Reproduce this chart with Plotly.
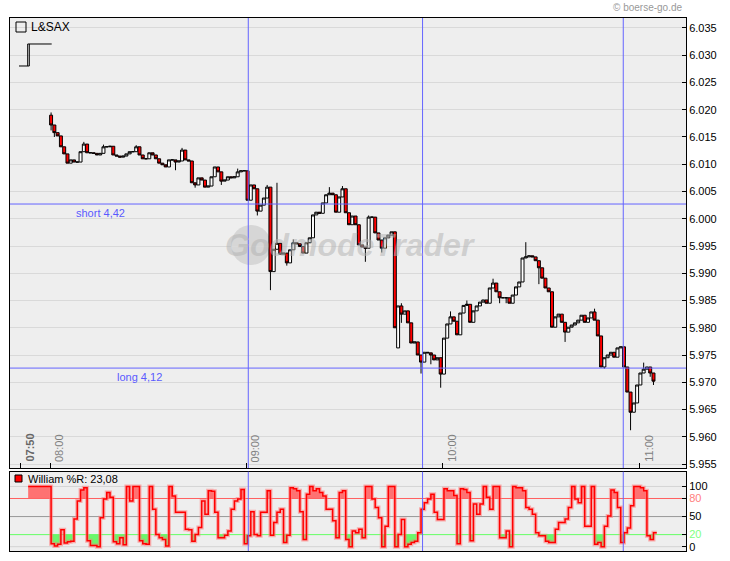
import plotly.graph_objects as go
import pandas as pd

# ---------------- data ----------------
first_open = 6.0190
closes = [
    6.0172, 6.0158, 6.0152, 6.0132, 6.0119, 6.0102, 6.0108, 6.0104, 6.0104, 6.0123,
    6.0137, 6.0121, 6.0121, 6.0120, 6.0117, 6.0120, 6.0132, 6.0132, 6.0133, 6.0117,
    6.0115, 6.0113, 6.0115, 6.0119, 6.0123, 6.0123, 6.0132, 6.0117, 6.0110, 6.0110,
    6.0121, 6.0117, 6.0110, 6.0102, 6.0099, 6.0095, 6.0108, 6.0108, 6.0104, 6.0106,
    6.0126, 6.0108, 6.0106, 6.0066, 6.0062, 6.0075, 6.0071, 6.0058, 6.0060, 6.0077,
    6.0095, 6.0086, 6.0069, 6.0071, 6.0077, 6.0075, 6.0077, 6.0086, 6.0088, 6.0088,
    6.0034, 6.0062, 6.0055, 6.0014, 6.0025, 6.0038, 6.0058, 5.9903, 5.9944, 5.9955,
    5.9935, 5.9937, 5.9919, 5.9943, 5.9956, 5.9954, 5.9949, 5.9937, 5.9956, 5.9965,
    6.0007, 6.0012, 6.0010, 6.0029, 6.0044, 6.0047, 6.0044, 6.0012, 6.0040, 6.0055,
    6.0011, 5.9989, 6.0005, 5.9989, 5.9952, 5.9948, 5.9946, 6.0003, 6.0003, 5.9974,
    5.9961, 5.9946, 5.9965, 5.9970, 5.9976, 5.9800, 5.9840, 5.9825, 5.9831, 5.9809,
    5.9772, 5.9774, 5.9750, 5.9737, 5.9755, 5.9754, 5.9750, 5.9741, 5.9745, 5.9715,
    5.9781, 5.9807, 5.9820, 5.9812, 5.9787, 5.9827, 5.9841, 5.9843, 5.9810, 5.9831,
    5.9840, 5.9847, 5.9851, 5.9845, 5.9873, 5.9882, 5.9866, 5.9855, 5.9855, 5.9855,
    5.9845, 5.9860, 5.9875, 5.9884, 5.9928, 5.9930, 5.9932, 5.9930, 5.9923, 5.9910,
    5.9891, 5.9873, 5.9866, 5.9801, 5.9820, 5.9825, 5.9810, 5.9792, 5.9801, 5.9805,
    5.9809, 5.9814, 5.9823, 5.9810, 5.9818, 5.9829, 5.9814, 5.9785, 5.9728, 5.9745,
    5.9750, 5.9755, 5.9746, 5.9763, 5.9765, 5.9728, 5.9682, 5.9645, 5.9662, 5.9695,
    5.9717, 5.9724, 5.9728, 5.9717, 5.9702,
]
open_overrides = {106: 5.9763}
wick_highs = {0: 6.0195, 10: 6.0141, 16: 6.0136, 26: 6.0135, 40: 6.0130, 57: 6.0092,
              66: 6.0062, 69: 6.0066, 74: 5.9962, 85: 6.0058, 89: 6.0060, 97: 6.0006,
              107: 5.9845, 122: 5.9830, 127: 5.9850, 135: 5.9890, 145: 5.9957,
              166: 5.9835, 181: 5.9736}
wick_lows = {0: 6.0162, 1: 6.0150, 38: 6.0089, 44: 6.0057, 52: 6.0062, 63: 6.0006,
             67: 5.9869, 72: 5.9914, 96: 5.9921, 101: 5.9938, 107: 5.9809, 113: 5.9716,
             116: 5.9733, 119: 5.9690, 137: 5.9845, 139: 5.9845, 149: 5.9880,
             157: 5.9774, 169: 5.9725, 177: 5.9612, 183: 5.9710, 184: 5.9695}

wr_lead = [100, 100, 100, 100, 100, 100, 100]
wr_values = [
    5, 1, 4, 28, 6, 8, 9, 46, 76, 94,
    98, 10, 2, 2, 0, 48, 79, 90, 82, 8,
    5, 15, 3, 100, 76, 100, 100, 10, 5, 4,
    100, 62, 20, 15, 12, 1, 100, 84, 57, 57,
    57, 29, 28, 9, 20, 32, 76, 54, 93, 92,
    57, 15, 15, 19, 26, 62, 76, 79, 95, 5,
    18, 58, 20, 18, 57, 57, 93, 19, 40, 57,
    62, 7, 19, 98, 96, 93, 58, 12, 87, 100,
    93, 96, 90, 84, 62, 62, 43, 15, 90, 93,
    12, 0, 26, 23, 29, 15, 100, 100, 79, 65,
    48, 0, 34, 100, 100, 0, 20, 45, 0, 4,
    7, 9, 23, 62, 73, 79, 87, 57, 45, 45,
    96, 93, 93, 85, 5, 96, 95, 90, 10, 71,
    54, 71, 100, 82, 62, 100, 100, 15, 15, 26,
    0, 100, 98, 98, 93, 65, 62, 54, 23, 18,
    18, 9, 7, 7, 29, 40, 40, 46, 65, 100,
    79, 73, 100, 34, 34, 100, 4, 7, 0, 34,
    51, 94, 90, 65, 7, 23, 31, 68, 100, 100,
    98, 93, 18, 12, 23.08,
]

price_ticks = [5.955, 5.960, 5.965, 5.970, 5.975, 5.980, 5.985, 5.990, 5.995, 6.000,
               6.005, 6.010, 6.015, 6.020, 6.025, 6.030, 6.035]
wr_ticks = [0, 20, 50, 80, 100]
wr_tick_text = ["0", '<span style="color:#80ff80">20</span>', "50",
                '<span style="color:#ff8080">80</span>', "100"]
time_ticks = ["07:51", "08:00", "09:00", "10:00", "11:00"]
time_labels = ["07:50", "08:00", "09:00", "10:00", "11:00"]
vline_times = ["09:00:34", "09:53:48", "10:55:06"]
short_level, long_level = 6.0027, 5.9726
short_label, long_label = "short 4,42", "long 4,12"
instrument = "L&SAX"
wr_label = "William %R: 23,08"

# ---------------- build ----------------
DAY = "2010-06-01 "
start = pd.Timestamp(DAY + "08:00:20")
t = [start + pd.Timedelta(minutes=i) for i in range(len(closes))]
opens = [first_open] + closes[:-1]
for k, v in open_overrides.items():
    opens[k] = v
highs = [max(o, c) for o, c in zip(opens, closes)]
lows = [min(o, c) for o, c in zip(opens, closes)]
for k, v in wick_highs.items():
    highs[k] = max(highs[k], v)
for k, v in wick_lows.items():
    lows[k] = min(lows[k], v)

wr_start = pd.Timestamp(DAY + "07:53:20")
wr_all = wr_lead + wr_values + [wr_values[-1]]
wr_t = [wr_start + pd.Timedelta(minutes=i) for i in range(len(wr_all))]

W, H = 730, 561
L, R, T, B = 10, 686, 18, 551


def px(x):
    return (x - L) / (R - L)


def py(y):
    return (B - y) / (B - T)


FONT = "Liberation Sans, Arial, sans-serif"

fig = go.Figure()
fig.add_trace(go.Candlestick(
    x=t, open=opens, high=highs, low=lows, close=closes,
    increasing=dict(fillcolor="white", line=dict(color="black", width=1)),
    decreasing=dict(fillcolor="#ff0000", line=dict(color="black", width=1)),
    whiskerwidth=0, xaxis="x", yaxis="y", hoverinfo="skip"))

# Williams %R fills
fig.add_trace(go.Scatter(x=wr_t, y=[80] * len(wr_all), mode="lines", line=dict(width=0, shape="hv"),
                         xaxis="x2", yaxis="y2", hoverinfo="skip"))
fig.add_trace(go.Scatter(x=wr_t, y=[max(v, 80) for v in wr_all], mode="lines",
                         line=dict(width=0, shape="hv"), fill="tonexty",
                         fillcolor="rgba(255,100,100,0.9)", xaxis="x2", yaxis="y2", hoverinfo="skip"))
fig.add_trace(go.Scatter(x=wr_t, y=[20] * len(wr_all), mode="lines", line=dict(width=0, shape="hv"),
                         xaxis="x2", yaxis="y2", hoverinfo="skip"))
fig.add_trace(go.Scatter(x=wr_t, y=[min(v, 20) for v in wr_all], mode="lines",
                         line=dict(width=0, shape="hv"), fill="tonexty",
                         fillcolor="rgba(100,245,100,0.95)", xaxis="x2", yaxis="y2", hoverinfo="skip"))
fig.add_trace(go.Scatter(x=wr_t, y=wr_all, mode="lines",
                         line=dict(color="rgba(255,120,120,0.55)", width=4, shape="hv"),
                         xaxis="x2", yaxis="y2", hoverinfo="skip"))
fig.add_trace(go.Scatter(x=wr_t, y=wr_all, mode="lines",
                         line=dict(color="#ff0000", width=1.5, shape="hv"),
                         xaxis="x2", yaxis="y2", hoverinfo="skip"))

x_range = [DAY + "07:47:47", DAY + "11:14:16"]
y_range = [5.95427, 6.03683]

fig.update_layout(
    width=W, height=H, margin=dict(l=L, r=W - R, t=T, b=H - B, autoexpand=False),
    paper_bgcolor="white", plot_bgcolor="#eeeeee", showlegend=False,
    font=dict(family=FONT, size=11, color="black"), boxgap=0.05, boxgroupgap=0.05,
    xaxis=dict(domain=[0, 1], anchor="y", range=x_range, type="date",
               tickvals=[DAY + s for s in time_ticks], ticks="inside", ticklen=5,
               tickcolor="black", showticklabels=False, showgrid=False,
               showline=True, linecolor="black", linewidth=1, mirror=True,
               rangeslider=dict(visible=False), zeroline=False),
    yaxis=dict(domain=[py(468), 1], anchor="x", side="right", range=y_range,
               tickvals=price_ticks, ticktext=["%.3f" % v for v in price_ticks],
               ticks="inside", ticklen=4, tickcolor="black",
               showgrid=True, gridcolor="#d9d9d9", gridwidth=1,
               showline=True, linecolor="black", linewidth=1, mirror=True, zeroline=False),
    xaxis2=dict(domain=[0, 1], anchor="y2", range=x_range, type="date", matches="x",
                showticklabels=False, ticks="", showgrid=False,
                showline=True, linecolor="black", linewidth=1, mirror=True, zeroline=False),
    yaxis2=dict(domain=[0, py(471.7)], anchor="x2", side="right", range=[-7.2, 124.5],
                tickvals=wr_ticks, ticktext=wr_tick_text, ticks="inside", ticklen=4,
                tickcolor="black", showgrid=False,
                showline=True, linecolor="black", linewidth=1, mirror=True, zeroline=False),
)

shapes = []
# %R reference lines
for lvl, col in [(100, "#d4d4d4"), (0, "#d4d4d4"), (80, "#ff6060"), (50, "#999999"), (20, "#66ff66")]:
    shapes.append(dict(type="line", xref="x2 domain", yref="y2", x0=0, x1=1, y0=lvl, y1=lvl,
                       line=dict(color=col, width=1), layer="below"))
# vertical blue lines across both panels
for vt in vline_times:
    for yr in ["y domain", "y2 domain"]:
        shapes.append(dict(type="line", xref="x", yref=yr, x0=DAY + vt, x1=DAY + vt, y0=0, y1=1,
                           line=dict(color="#6464ff", width=1)))
# short / long horizontal lines
for lvl in [short_level, long_level]:
    shapes.append(dict(type="line", xref="x domain", yref="y", x0=0, x1=1, y0=lvl, y1=lvl,
                       line=dict(color="#6464ff", width=1)))
# watermark ball
shapes.append(dict(type="circle", xref="paper", yref="paper", x0=px(231), x1=px(271),
                   y0=py(265), y1=py(225), fillcolor="#d6d6d6", line=dict(width=0), layer="below"))
# legend icons
shapes.append(dict(type="rect", xref="paper", yref="paper", x0=px(16), x1=px(26), y0=py(32), y1=py(22),
                   line=dict(color="black", width=1), fillcolor="rgba(0,0,0,0)"))
shapes.append(dict(type="path", xref="paper", yref="paper",
                   path="M %f %f L %f %f L %f %f" % (px(19), py(66), px(29.3), py(66), px(29.3), py(44)),
                   line=dict(color="black", width=1)))
shapes.append(dict(type="path", xref="paper", yref="paper",
                   path="M %f %f L %f %f L %f %f" % (px(27.7), py(66), px(27.7), py(44), px(51.7), py(44)),
                   line=dict(color="black", width=1)))
shapes.append(dict(type="rect", xref="paper", yref="paper", x0=px(15), x1=px(22), y0=py(482), y1=py(475),
                   line=dict(color="black", width=1), fillcolor="#ff0000"))
fig.update_layout(shapes=shapes)

ann = []
for tv, lab in zip(time_ticks, time_labels):
    bold = lab == "07:50"
    ann.append(dict(x=DAY + tv, xref="x", y=0, yref="y domain", text=("<b>%s</b>" % lab) if bold else lab,
                    textangle=-90, xanchor="left", yanchor="bottom", xshift=1, yshift=4, showarrow=False,
                    font=dict(family=FONT, size=11, color="#666666" if bold else "#808080")))
ann.append(dict(x=px(74), xref="paper", y=short_level, yref="y", text=short_label, xanchor="left",
                yanchor="top", yshift=-1, showarrow=False,
                font=dict(family=FONT, size=11, color="#5a5aff")))
ann.append(dict(x=px(115), xref="paper", y=long_level, yref="y", text=long_label, xanchor="left",
                yanchor="top", yshift=-1, showarrow=False,
                font=dict(family=FONT, size=11, color="#5a5aff")))
ann.append(dict(x=px(29), xref="paper", y=py(27), yref="paper", text=instrument, xanchor="left",
                yanchor="middle", showarrow=False,
                font=dict(family=FONT, size=12, color="black")))
ann.append(dict(x=px(26), xref="paper", y=py(479), yref="paper", text=wr_label, xanchor="left",
                yanchor="middle", showarrow=False,
                font=dict(family=FONT, size=11, color="black")))
ann.append(dict(x=px(685), xref="paper", y=py(8), yref="paper", text="© boerse-go.de", xanchor="right",
                yanchor="middle", showarrow=False,
                font=dict(family=FONT, size=10, color="#999999")))
ann.append(dict(x=px(350), xref="paper", y=py(245), yref="paper", text="<b><i>GodmodeTrader</i></b>",
                xanchor="center", yanchor="middle", showarrow=False,
                font=dict(family=FONT, size=32, color="rgba(180,180,180,0.55)")))
fig.update_layout(annotations=ann)

fig.write_html("out.html", config={"displayModeBar": False},
               post_script="document.body.style.margin='0px';")
